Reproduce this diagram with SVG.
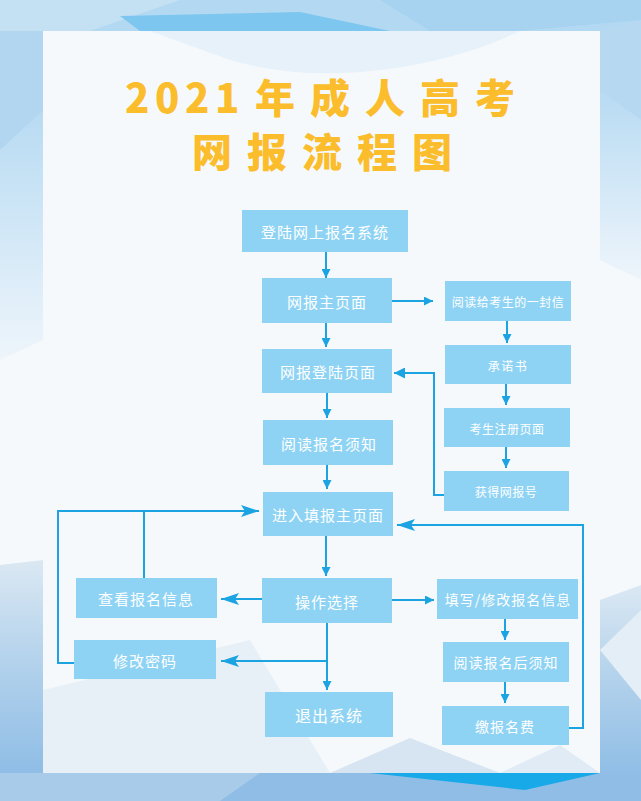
<svg xmlns="http://www.w3.org/2000/svg" width="641" height="801" viewBox="0 0 641 801">
<style>
.box{fill:#8ed3f4}
.t{font-family:"Noto Sans CJK SC","Noto Sans",sans-serif;fill:#ffffff;text-anchor:middle;dominant-baseline:central}
.m{font-size:15px;letter-spacing:1px}
.s{font-size:12px;letter-spacing:0.5px}
.c{fill:none;stroke:#1ba3e2;stroke-width:2}
.title{font-family:"Noto Sans CJK SC","Noto Sans",sans-serif;font-weight:900;fill:#fbbd2c;font-size:40px}
</style>
<defs>
<marker id="as" viewBox="0 0 10 10" refX="10" refY="5" markerWidth="9" markerHeight="9" markerUnits="userSpaceOnUse" orient="auto"><path d="M0,0 L10,5 L0,10 z" fill="#1ba3e2"/></marker>
<marker id="am" viewBox="0 0 10 10" refX="10" refY="5" markerWidth="11" markerHeight="11" markerUnits="userSpaceOnUse" orient="auto"><path d="M0,0 L10,5 L0,10 z" fill="#1ba3e2"/></marker>
<marker id="al" viewBox="0 0 18 12" refX="18" refY="6" markerWidth="18" markerHeight="12" markerUnits="userSpaceOnUse" orient="auto"><path d="M0,0 L18,6 L0,12 L4,6 z" fill="#1ba3e2"/></marker>
<linearGradient id="lb" x1="0" y1="0" x2="0" y2="1"><stop offset="0" stop-color="#dbe8f3"/><stop offset="0.4" stop-color="#b5d3ec"/><stop offset="1" stop-color="#86b8e4"/></linearGradient>
<linearGradient id="lt" x1="0" y1="0" x2="0" y2="1"><stop offset="0" stop-color="#a6d2f0"/><stop offset="1" stop-color="#eef5fb"/></linearGradient>
</defs>
<g id="background">
<rect x="0" y="0" width="641" height="801" fill="#f5f9fc"/>
<rect x="0" y="0" width="641" height="31" fill="#b3d9f2"/>
<polygon points="0,0 180,0 90,31 0,31" fill="#c4e0f3"/>
<polygon points="120,16 300,12 390,31 140,31" fill="#7cc6ef"/>
<polygon points="380,0 641,0 641,20 520,31 430,31" fill="#a8d3f0"/>
<polygon points="0,31 43,31 43,340 0,360" fill="url(#lt)"/>
<polygon points="0,31 43,31 43,110 0,150" fill="#b2d6f0"/>
<polygon points="600,31 641,31 641,280 600,260" fill="url(#lt)"/>
<polygon points="600,31 641,20 641,120 600,90" fill="#b6d8f1"/>
<polygon points="0,565 43,560 43,801 0,801" fill="url(#lb)"/>
<polygon points="600,600 641,585 641,801 600,801" fill="url(#lb)"/>
<polygon points="600,650 641,610 641,700" fill="#e3eef7"/>
<rect x="0" y="773" width="641" height="28" fill="#8fbde6"/>
<polygon points="0,773 260,773 220,801 0,801" fill="#a8cbe9"/>
<polygon points="370,773 600,773 525,790" fill="#18a9e9"/>
<polygon points="43,690 250,640 330,773 43,773" fill="#e8f0f7"/>
<polygon points="330,773 410,738 500,773" fill="#d6e5f1"/>
<polygon points="500,773 560,745 600,773" fill="#e0ebf5"/>
<path d="M150,31 H520 Q460,60 380,70 Q300,80 230,60 Z" fill="#e7f1fa"/>
</g>
<g id="title">
<text class="title" x="125 155 185 215 255 310 365 420 475" y="113">2021年成人高考</text>
<text class="title" x="192 247 302 357 412" y="167">网报流程图</text>
</g>
<g id="connectors">
<path class="c" d="M326,252 V278" marker-end="url(#as)"/>
<path class="c" d="M392,301 H433" marker-end="url(#as)"/>
<path class="c" d="M326,323 V347" marker-end="url(#as)"/>
<path class="c" d="M507,321 V343" marker-end="url(#as)"/>
<path class="c" d="M506,384 V405" marker-end="url(#as)"/>
<path class="c" d="M506,447 V468" marker-end="url(#as)"/>
<path class="c" d="M444,495 H434 V373 H394" marker-end="url(#am)"/>
<path class="c" d="M327,393 V418" marker-end="url(#as)"/>
<path class="c" d="M327,465 V489" marker-end="url(#as)"/>
<path class="c" d="M74,663 H58 V511 H259" marker-end="url(#al)"/>
<path class="c" d="M144,578 V511"/>
<path class="c" d="M326,536 V576" marker-end="url(#as)"/>
<path class="c" d="M262,599 H221" marker-end="url(#al)"/>
<path class="c" d="M327,623 V690" marker-end="url(#as)"/>
<path class="c" d="M327,661 H221" marker-end="url(#al)"/>
<path class="c" d="M392,600 H434" marker-end="url(#as)"/>
<path class="c" d="M505,619 V640" marker-end="url(#as)"/>
<path class="c" d="M505,682 V703" marker-end="url(#as)"/>
<path class="c" d="M569,728 H583 V525 H397" marker-end="url(#al)"/>
</g>
<g id="n1"><rect class="box" x="242" y="210" width="166" height="42"/><text class="t m" x="325" y="231">登陆网上报名系统</text></g>
<g id="n2"><rect class="box" x="262" y="278" width="130" height="45"/><text class="t m" x="327" y="301">网报主页面</text></g>
<g id="n3"><rect class="box" x="445" y="281" width="126" height="40"/><text class="t s" x="508" y="301">阅读给考生的一封信</text></g>
<g id="n4"><rect class="box" x="262" y="349" width="130" height="44"/><text class="t m" x="328" y="371">网报登陆页面</text></g>
<g id="n5"><rect class="box" x="445" y="345" width="126" height="39"/><text class="t s" x="508" y="365" style="letter-spacing:1.5px">承诺书</text></g>
<g id="n6"><rect class="box" x="263" y="420" width="130" height="45"/><text class="t m" x="329" y="443">阅读报名须知</text></g>
<g id="n7"><rect class="box" x="444" y="408" width="126" height="39"/><text class="t s" x="507" y="428">考生注册页面</text></g>
<g id="n8"><rect class="box" x="444" y="471" width="125" height="40"/><text class="t s" x="506" y="491">获得网报号</text></g>
<g id="n9"><rect class="box" x="263" y="492" width="130" height="44"/><text class="t m" x="328" y="514">进入填报主页面</text></g>
<g id="n10"><rect class="box" x="76" y="578" width="141" height="40"/><text class="t m" x="146" y="598">查看报名信息</text></g>
<g id="n11"><rect class="box" x="262" y="578" width="130" height="45"/><text class="t m" x="327" y="601">操作选择</text></g>
<g id="n12"><rect class="box" x="74" y="640" width="142" height="39"/><text class="t m" x="145" y="660">修改密码</text></g>
<g id="n13"><rect class="box" x="437" y="579" width="141" height="40"/><text class="t m" x="508" y="599" style="font-size:14px">填写/修改报名信息</text></g>
<g id="n14"><rect class="box" x="443" y="642" width="126" height="40"/><text class="t m" x="506" y="662" style="font-size:14px">阅读报名后须知</text></g>
<g id="n15"><rect class="box" x="442" y="706" width="127" height="39"/><text class="t m" x="505" y="726" style="font-size:14px">缴报名费</text></g>
<g id="n16"><rect class="box" x="265" y="692" width="128" height="45"/><text class="t m" x="329" y="715" style="font-size:16px">退出系统</text></g>
</svg>
